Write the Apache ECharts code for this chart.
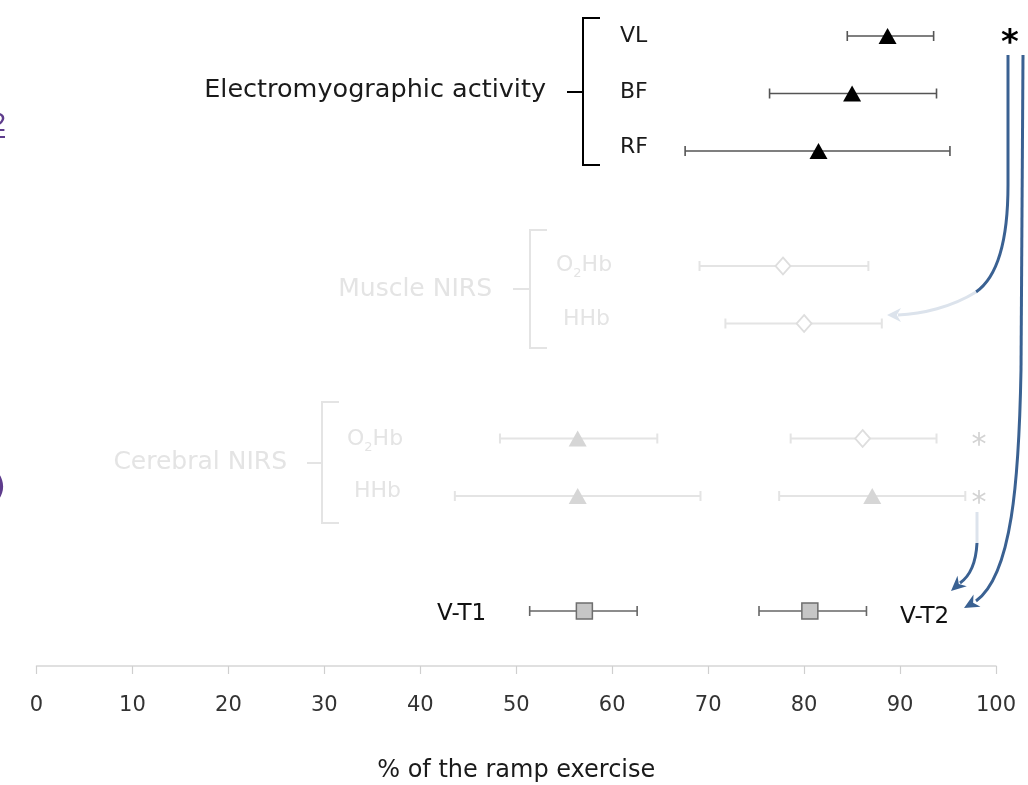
<!DOCTYPE html>
<html><head><meta charset="utf-8">
<script src="https://cdn.jsdelivr.net/npm/echarts@6/dist/echarts.min.js"></script>
<style>html,body{margin:0;padding:0;background:#fff}#c{width:1028px;height:785px}</style>
</head><body><div id="c"></div>
<script>
// ---- data ----
const rowKeys = ['VL','BF','RF','gapA','mO2Hb','mHHb','gapB','cO2Hb','cHHb','gapC','VT'];
const xMin = 0, xMax = 100, xStep = 10;
const xTitle = '% of the ramp exercise';

const emgRows = ['VL','BF','RF'];
const emgMean = [88.7, 85.0, 81.5];
const emgLow  = [84.5, 76.4, 67.6];
const emgHigh = [93.5, 93.8, 95.2];

const muscleRows = ['mO2Hb','mHHb'];
const muscleMean = [77.8, 80.0];
const muscleLow  = [69.1, 71.8];
const muscleHigh = [86.7, 88.1];

const cerebRows = ['cO2Hb','cHHb'];
const cerebEarlyMean = [56.4, 56.4];
const cerebEarlyLow  = [48.3, 43.6];
const cerebEarlyHigh = [64.7, 69.2];
const cerebLateMean = [86.1, 87.1];
const cerebLateLow  = [78.6, 77.4];
const cerebLateHigh = [93.8, 96.8];

const vtRows = ['VT','VT'];
const vtNames = ['V-T1','V-T2'];
const vtMean = [57.1, 80.6];
const vtLow  = [51.4, 75.3];
const vtHigh = [62.6, 86.5];

// ---- helpers ----
const FONT = 'DejaVu Sans';
function errSeries(rows, lo, hi, color, w) {
  return {
    type: 'custom', silent: true, z: 2,
    encode: { x: [1, 2], y: 0 },
    data: rows.map((r, i) => [r, lo[i], hi[i]]),
    renderItem: (p, api) => {
      const y = api.value(0);
      const a = api.coord([api.value(1), y]);
      const b = api.coord([api.value(2), y]);
      const h = 5;
      const st = { stroke: color, lineWidth: w };
      return { type: 'group', children: [
        { type: 'line', shape: { x1: a[0], y1: a[1], x2: b[0], y2: b[1] }, style: st },
        { type: 'line', shape: { x1: a[0], y1: a[1] - h, x2: a[0], y2: a[1] + h }, style: st },
        { type: 'line', shape: { x1: b[0], y1: b[1] - h, x2: b[0], y2: b[1] + h }, style: st }
      ]};
    }
  };
}
function markSeries(rows, mean, symbol, size, fill, border, bw) {
  return {
    type: 'scatter', silent: true, z: 3,
    symbol: symbol, symbolSize: size,
    itemStyle: { color: fill, borderColor: border, borderWidth: bw, opacity: 1 },
    data: rows.map((r, i) => [mean[i], r])
  };
}
function txt(x, y, text, size, color, align, weight) {
  return {
    type: 'text', x: x, y: y, silent: true,
    style: { text: text, fill: color, font: (weight ? weight + ' ' : '') + size + 'px "' + FONT + '"',
      align: align || 'left', textAlign: align || 'left',
      verticalAlign: 'middle', textVerticalAlign: 'middle' }
  };
}
function subTxt(x, y, pre, sub, post, size, color) {
  return {
    type: 'text', x: x, y: y, silent: true,
    style: {
      text: '{n|' + pre + '}{s|' + sub + '}{n|' + post + '}',
      align: 'left', textAlign: 'left', verticalAlign: 'middle', textVerticalAlign: 'middle',
      rich: {
        n: { fontSize: size, fontFamily: FONT, fill: color, color: color, lineHeight: size + 8, verticalAlign: 'middle' },
        s: { fontSize: Math.round(size * 0.6), fontFamily: FONT, fill: color, color: color, lineHeight: size + 8, verticalAlign: 'bottom' }
      }
    }
  };
}
function poly(points, color, w) {
  return { type: 'polyline', silent: true, shape: { points: points }, style: { stroke: color, lineWidth: w, fill: null } };
}
function seg(x1, y1, x2, y2, color, w) {
  return { type: 'line', silent: true, shape: { x1: x1, y1: y1, x2: x2, y2: y2 }, style: { stroke: color, lineWidth: w } };
}
function bez(p0, c1, c2, p1, color, w) {
  return { type: 'bezierCurve', silent: true,
    shape: { x1: p0[0], y1: p0[1], cpx1: c1[0], cpy1: c1[1], cpx2: c2[0], cpy2: c2[1], x2: p1[0], y2: p1[1] },
    style: { stroke: color, lineWidth: w, fill: null } };
}
function head(tip, from, color, len, half) {
  const dx = tip[0] - from[0], dy = tip[1] - from[1];
  const L = Math.hypot(dx, dy); const ux = dx / L, uy = dy / L;
  const bx = tip[0] - ux * len, by = tip[1] - uy * len;
  return { type: 'polygon', silent: true, shape: { points: [
    tip, [bx - uy * half, by + ux * half], [tip[0] - ux * len * 0.7, tip[1] - uy * len * 0.7], [bx + uy * half, by - ux * half]
  ]}, style: { fill: color } };
}

const DARK = '#000', LIGHT = '#e4e4e4', LIGHTTXT = '#e4e4e4', BLUE = '#3a6192', PALE = '#dce3ec', PURPLE = '#5e3c8c';

const graphics = [
  // clipped purple fragments at left edge
  txt(-9, 124, '2', 25, PURPLE, 'left'),
  seg(0, 137, 5, 137, PURPLE, 2),
  txt(-8, 488, ')', 30, PURPLE, 'left', 'bold'),

  // EMG group
  txt(546, 90, 'Electromyographic activity', 25.5, '#1a1a1a', 'right'),
  poly([[600, 18], [583, 18], [583, 165], [600, 165]], DARK, 2),
  seg(567, 92, 583, 92, DARK, 2),
  txt(620, 36, emgRows[0], 22, '#1a1a1a'),
  txt(620, 92, emgRows[1], 22, '#1a1a1a'),
  txt(620, 147, emgRows[2], 22, '#1a1a1a'),

  // Muscle NIRS group
  txt(492, 289, 'Muscle NIRS', 25, LIGHTTXT, 'right'),
  poly([[547, 230], [530, 230], [530, 348], [547, 348]], LIGHT, 2),
  seg(513, 289, 530, 289, LIGHT, 2),
  subTxt(556, 265, 'O', '2', 'Hb', 22, LIGHTTXT),
  txt(563, 319, 'HHb', 22, LIGHTTXT),

  // Cerebral NIRS group
  txt(287, 462, 'Cerebral NIRS', 25, LIGHTTXT, 'right'),
  poly([[339, 402], [322, 402], [322, 523], [339, 523]], LIGHT, 2),
  seg(307, 463, 322, 463, LIGHT, 2),
  subTxt(347, 439, 'O', '2', 'Hb', 22, LIGHTTXT),
  txt(354, 491, 'HHb', 22, LIGHTTXT),

  // V-T labels
  txt(437, 614, vtNames[0], 23, '#111'),
  txt(900, 617, vtNames[1], 23, '#111'),

  // asterisks
  txt(1010, 44, '*', 34, '#000', 'center', 'bold'),
  txt(979, 446, '*', 30, '#d3d3d3', 'center'),
  txt(979, 504, '*', 30, '#d3d3d3', 'center'),

  // arrows
  seg(1008, 55, 1008, 185, BLUE, 3),
  bez([1008, 185], [1008, 245], [996, 278], [976, 292], BLUE, 3),
  bez([976, 292], [952, 307], [922, 314], [898, 315], PALE, 3),
  head([887, 315], [900, 315], PALE, 14, 7),

  seg(1023, 55, 1021, 370, BLUE, 3),
  bez([1021, 370], [1019, 480], [1012, 575], [976, 601], BLUE, 3),
  head([964, 608], [978, 600], BLUE, 15, 7),

  seg(977, 512, 977, 543, PALE, 3),
  bez([977, 543], [976, 562], [970, 576], [960, 583], BLUE, 3),
  head([951, 591], [961, 582], BLUE, 15, 7)
];

const chart = echarts.init(document.getElementById('c'), null, { renderer: 'canvas' });
chart.setOption({
  animation: false,
  backgroundColor: '#fff',
  grid: { left: 36.5, right: 32, top: 36, bottom: 174, containLabel: false, outerBoundsMode: 'none' },
  xAxis: {
    type: 'value', min: xMin, max: xMax, interval: xStep, offset: 55,
    name: xTitle, nameLocation: 'middle', nameGap: 93,
    nameTextStyle: { fontSize: 24, color: '#1a1a1a', fontFamily: FONT },
    axisLine: { show: true, lineStyle: { color: '#d6d6d6', width: 1.5 } },
    axisTick: { show: true, length: 8, lineStyle: { color: '#cfcfcf', width: 1.2 } },
    axisLabel: { margin: 29, fontSize: 21, color: '#333', fontFamily: FONT },
    splitLine: { show: false }
  },
  yAxis: { type: 'category', data: rowKeys, inverse: true, boundaryGap: false, show: false },
  graphic: { elements: graphics },
  series: [
    errSeries(emgRows, emgLow, emgHigh, '#555', 1.6),
    markSeries(emgRows, emgMean, 'triangle', [18, 16], '#000', '#000', 0),
    errSeries(muscleRows, muscleLow, muscleHigh, LIGHT, 2),
    markSeries(muscleRows, muscleMean, 'diamond', [15, 17], '#fff', '#dedede', 1.8),
    errSeries(cerebRows, cerebEarlyLow, cerebEarlyHigh, LIGHT, 2),
    markSeries(cerebRows, cerebEarlyMean, 'triangle', [18, 16], '#d6d6d6', '#d6d6d6', 0),
    errSeries(cerebRows, cerebLateLow, cerebLateHigh, LIGHT, 2),
    markSeries([cerebRows[0]], [cerebLateMean[0]], 'diamond', [15, 17], '#fff', '#dedede', 1.8),
    markSeries([cerebRows[1]], [cerebLateMean[1]], 'triangle', [18, 16], '#d6d6d6', '#d6d6d6', 0),
    errSeries(vtRows, vtLow, vtHigh, '#666', 1.6),
    markSeries(vtRows, vtMean, 'rect', [16, 16], '#c6c6c6', '#6e6e6e', 1.5)
  ]
});
</script>
</body></html>
